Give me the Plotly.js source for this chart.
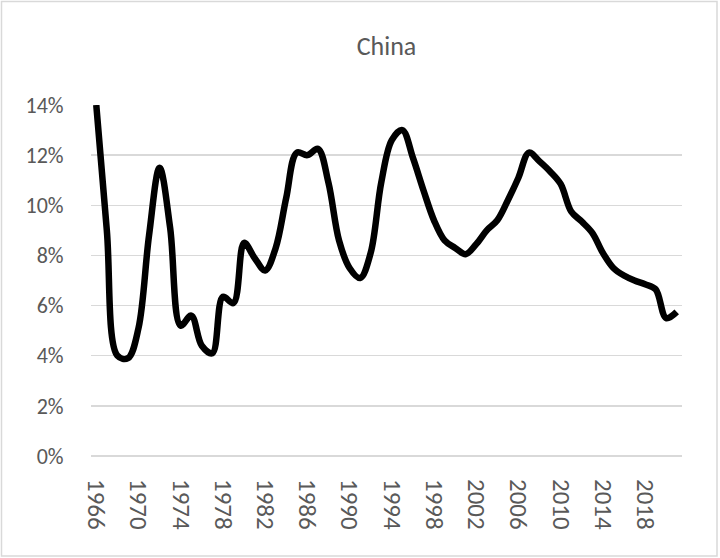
<!DOCTYPE html>
<html>
<head>
<meta charset="utf-8">
<script src="https://cdn.plot.ly/plotly-3.0.1.min.js"></script>
<style>
  html, body { margin: 0; padding: 0; background: #ffffff; }
  #chart { width: 720px; height: 558px; }
</style>
</head>
<body>
<div id="chart"></div>
<script>
// Data
const years = [];
for (let y = 1966; y <= 2021; y++) years.push(y);

const chinaValues = [
  14.0, 9.0, 4.0, 3.9, 5.1, 8.8, 11.5, 9.1, 5.2, 5.6,   // 1966-1975
  4.4, 4.1, 6.35, 6.1, 8.5, 7.9, 7.4, 8.3, 10.3, 12.1,   // 1976-1985
  12.0, 12.25, 10.9, 8.6, 7.5, 7.1, 8.1, 10.9, 12.6, 13.0, // 1986-1995
  11.9, 10.6, 9.4, 8.6, 8.3, 8.05, 8.45, 9.0, 9.4, 10.2, // 1996-2005
  11.1, 12.1, 11.75, 11.35, 10.85, 9.75, 9.35, 8.9, 8.1, 7.5, // 2006-2015
  7.2, 7.0, 6.85, 6.65, 5.5, 5.75                        // 2016-2021
];

const xTickVals = [1966, 1970, 1974, 1978, 1982, 1986, 1990, 1994, 1998, 2002, 2006, 2010, 2014, 2018];
const xTickText = xTickVals.map(String);
const yTickVals = [0, 2, 4, 6, 8, 10, 12, 14];
const yTickText = yTickVals.map(v => v + '%');

const fontFamily = 'Carlito, Calibri, Lato, sans-serif';
const textColor = '#595959';
const gridColor = '#d9d9d9';

const trace = {
  x: years,
  y: chinaValues,
  type: 'scatter',
  mode: 'lines',
  line: { color: '#000000', width: 6.5, shape: 'spline', smoothing: 1 },
  hoverinfo: 'x+y'
};

const layout = {
  width: 720,
  height: 558,
  paper_bgcolor: '#ffffff',
  plot_bgcolor: '#ffffff',
  margin: { l: 91, r: 38, t: 105, b: 102 },
  showlegend: false,
  title: {
    text: 'China',
    font: { family: fontFamily, size: 26, color: textColor },
    x: 0.5, xref: 'paper', xanchor: 'center',
    y: 1 - 46 / 558, yref: 'container', yanchor: 'middle'
  },
  xaxis: {
    type: 'linear',
    range: [1965.5, 2021.5],
    tickmode: 'array',
    tickvals: xTickVals,
    ticktext: xTickText,
    tickangle: 90,
    ticks: 'outside',
    ticklen: 17,
    tickcolor: 'rgba(0,0,0,0)',
    showgrid: false,
    zeroline: false,
    showline: false,
    tickfont: { family: fontFamily, size: 25, color: textColor }
  },
  yaxis: {
    range: [0, 14],
    tickmode: 'array',
    tickvals: yTickVals,
    ticktext: yTickText,
    ticks: 'outside',
    ticklen: 22,
    tickcolor: 'rgba(0,0,0,0)',
    showgrid: true,
    gridcolor: gridColor,
    gridwidth: 1.5,
    zeroline: true,
    zerolinecolor: gridColor,
    zerolinewidth: 1.5,
    showline: false,
    tickfont: { family: fontFamily, size: 22, color: textColor }
  },
  shapes: [{
    type: 'rect',
    xref: 'paper', yref: 'paper',
    x0: (1.5 - 91) / 591, x1: (717 - 91) / 591,
    y0: (456 - 556) / 351, y1: (456 - 1.5) / 351,
    line: { color: gridColor, width: 1.5 },
    fillcolor: 'rgba(0,0,0,0)',
    layer: 'below'
  }]
};

Plotly.newPlot('chart', [trace], layout, { displayModeBar: false, staticPlot: true });
</script>
</body>
</html>
